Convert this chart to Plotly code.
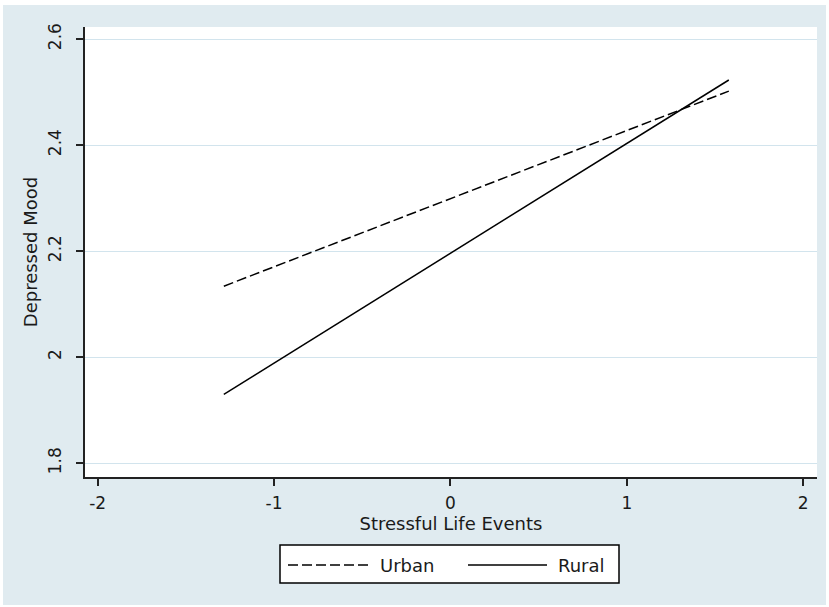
import plotly.graph_objects as go

# ---- data ----
x_urban = [-1.285, 1.578]
y_urban = [2.134, 2.502]
x_rural = [-1.285, 1.578]
y_rural = [1.930, 2.523]
x_ticks = [-2, -1, 0, 1, 2]
x_ticklabels = ["-2", "-1", "0", "1", "2"]
y_ticks = [1.8, 2.0, 2.2, 2.4, 2.6]
y_ticklabels = ["1.8", "2", "2.2", "2.4", "2.6"]
series_names = ["Urban", "Rural"]

W, H = 829, 607
L, R, T, B = 85, 12, 27, 130
pw, ph = W - L - R, H - T - B


def px2x(px):
    return (px - L) / pw


def px2y(py):
    return (H - B - py) / ph


FONT = "DejaVu Sans, Verdana, sans-serif"
TXT = "#1a1a1a"
BG = "#e0ebf0"
GRID = "#d2e4ed"

fig = go.Figure()
fig.add_trace(go.Scatter(x=x_urban, y=y_urban, mode="lines", name=series_names[0],
                         line=dict(color="black", width=1.5, dash="10px,4px"),
                         showlegend=False))
fig.add_trace(go.Scatter(x=x_rural, y=y_rural, mode="lines", name=series_names[1],
                         line=dict(color="black", width=1.5),
                         showlegend=False))

white_strip = dict(fillcolor="white", line=dict(width=0), layer="above",
                   type="rect", xref="paper", yref="paper")
shapes = [
    # thin white frame around the blue page background
    dict(white_strip, x0=px2x(0), x1=px2x(3), y0=px2y(607), y1=px2y(0)),
    dict(white_strip, x0=px2x(826), x1=px2x(829), y0=px2y(607), y1=px2y(0)),
    dict(white_strip, x0=px2x(0), x1=px2x(829), y0=px2y(5), y1=px2y(0)),
    dict(white_strip, x0=px2x(0), x1=px2x(829), y0=px2y(607), y1=px2y(605)),
    # legend box
    dict(type="rect", xref="paper", yref="paper",
         x0=px2x(280), x1=px2x(619), y0=px2y(583), y1=px2y(545),
         fillcolor="white", line=dict(color="black", width=1.5)),
    dict(type="line", xref="paper", yref="paper",
         x0=px2x(288), x1=px2x(368), y0=px2y(565), y1=px2y(565),
         line=dict(color="black", width=1.5, dash="10px,4px")),
    dict(type="line", xref="paper", yref="paper",
         x0=px2x(468), x1=px2x(547), y0=px2y(565), y1=px2y(565),
         line=dict(color="black", width=1.5)),
]

annotations = [
    dict(text=series_names[0], xref="paper", yref="paper", x=px2x(378), y=px2y(565),
         xanchor="left", yanchor="middle", showarrow=False,
         font=dict(family=FONT, size=18, color=TXT)),
    dict(text=series_names[1], xref="paper", yref="paper", x=px2x(556), y=px2y(565),
         xanchor="left", yanchor="middle", showarrow=False,
         font=dict(family=FONT, size=18, color=TXT)),
]

fig.update_layout(
    width=W, height=H,
    margin=dict(l=L, r=R, t=T, b=B, pad=0),
    paper_bgcolor=BG,
    plot_bgcolor="white",
    font=dict(family=FONT, size=16, color=TXT),
    shapes=shapes,
    annotations=annotations,
    showlegend=False,
    xaxis=dict(
        range=[-2.072, 2.078], tickmode="array", tickvals=x_ticks, ticktext=x_ticklabels,
        showgrid=False, zeroline=False, showline=True, linecolor="#222", linewidth=1.5,
        ticks="outside", ticklen=7, tickwidth=1.5, tickcolor="#222",
        tickfont=dict(family=FONT, size=17, color=TXT), ticklabelstandoff=3,
        title=dict(text="Stressful Life Events", standoff=0,
                   font=dict(family=FONT, size=18, color=TXT)),
        automargin=False,
    ),
    yaxis=dict(
        range=[1.774, 2.623], tickmode="array", tickvals=y_ticks, ticktext=y_ticklabels,
        showgrid=True, gridcolor=GRID, gridwidth=1, zeroline=False,
        showline=True, linecolor="#222", linewidth=1.5,
        ticks="outside", ticklen=7, tickwidth=1.5, tickcolor="#222", tickangle=-90,
        tickfont=dict(family=FONT, size=17, color=TXT), ticklabelstandoff=8,
        title=dict(text="Depressed Mood", standoff=3,
                   font=dict(family=FONT, size=18, color=TXT)),
        automargin=False,
    ),
)

fig.write_html("out.html", config={"displayModeBar": False},
               post_script="document.body.style.margin='0';")
